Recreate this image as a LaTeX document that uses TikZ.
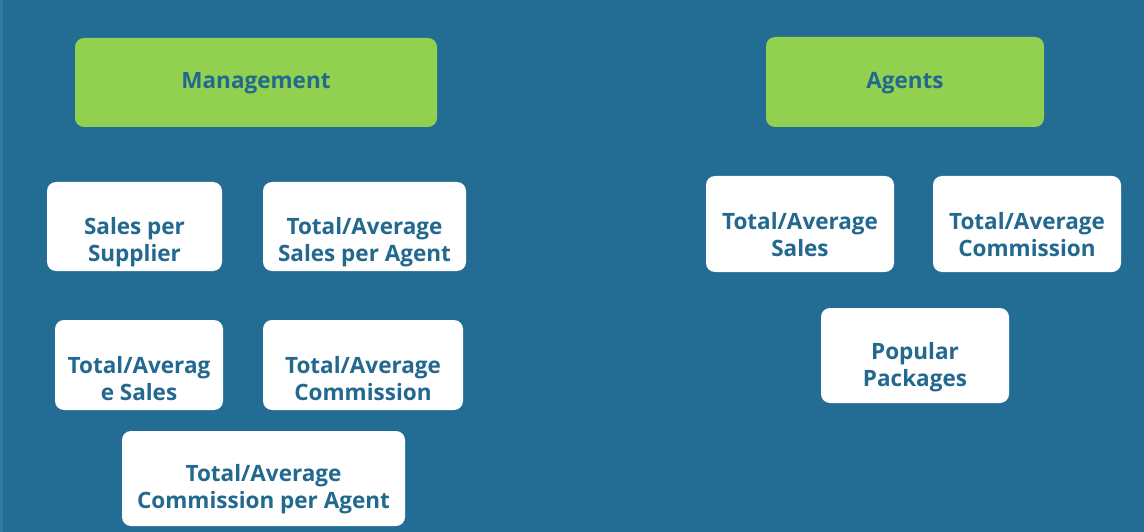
\documentclass[tikz,border=0pt]{standalone}
\usepackage{fontspec}
\setmainfont{Open Sans}
\definecolor{bg}{HTML}{236C93}
\definecolor{edge}{HTML}{3079A0}
\definecolor{grn}{HTML}{92D050}
\definecolor{txt}{HTML}{22688F}
\begin{document}
\begin{tikzpicture}[x=1pt,y=-1pt,
  card/.style={rounded corners=9pt, fill=white, inner sep=0pt},
  head/.style={rounded corners=9pt, fill=grn, inner sep=0pt},
  lbl/.style={font=\fontsize{22.5}{27}\selectfont\bfseries, text=txt, align=center, inner sep=0pt}]
\fill[bg] (0,0) rectangle (1144,532);
\fill[edge] (0,0) rectangle (3,532);
\useasboundingbox (0,0) rectangle (1144,532);
% Management side
\node[head, minimum width=362pt, minimum height=89pt] (mgmt) at (256,82.5) {};
\node[lbl] (mgmtT) at (256,83) {Management};
\node[card, minimum width=175pt, minimum height=89pt] (sps) at (134.5,226.5) {};
\node[lbl] (spsT) at (134.5,242) {Sales per\\Supplier};
\node[card, minimum width=203pt, minimum height=89pt] (tasa) at (364.5,226.5) {};
\node[lbl] (tasaT) at (364.5,242) {Total/Average\\Sales per Agent};
\node[card, minimum width=168pt, minimum height=90pt] (tas) at (139,365) {};
\node[lbl] (tasT) at (139,379) {Total/Averag\\e Sales};
\node[card, minimum width=200pt, minimum height=90pt] (tac) at (363,365) {};
\node[lbl] (tacT) at (363,379) {Total/Average\\Commission};
\node[card, minimum width=283pt, minimum height=95pt] (taca) at (263.5,478.5) {};
\node[lbl] (tacaT) at (263.5,489) {Total/Average\\Commission per Agent};
% Agents side
\node[head, minimum width=278pt, minimum height=90pt] (agents) at (905,82) {};
\node[lbl] (agentsT) at (905,83) {Agents};
\node[card, minimum width=188pt, minimum height=96pt] (atas) at (800,224) {};
\node[lbl] (atasT) at (800,235) {Total/Average\\Sales};
\node[card, minimum width=188pt, minimum height=96pt] (atac) at (1027,224) {};
\node[lbl] (atacT) at (1027,235) {Total/Average\\Commission};
\node[card, minimum width=188pt, minimum height=95pt] (pop) at (915,355.5) {};
\node[lbl] (popT) at (915,367) {Popular\\Packages};
\end{tikzpicture}
\end{document}
